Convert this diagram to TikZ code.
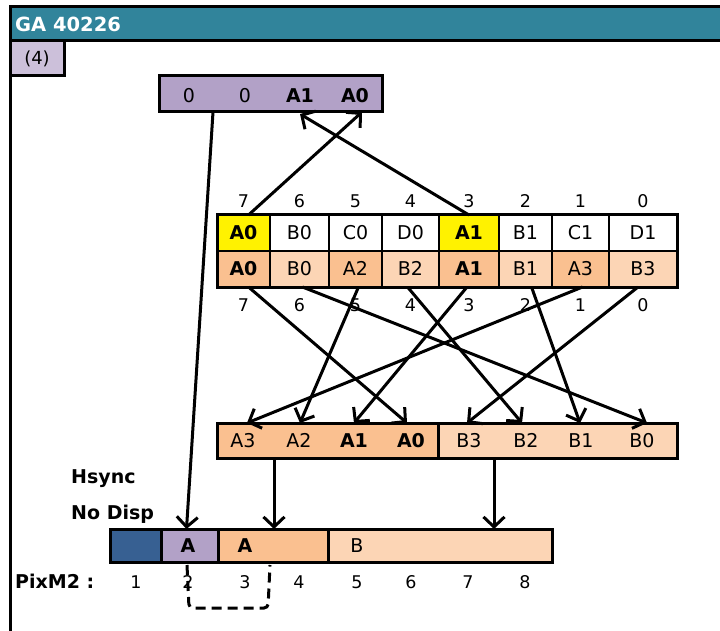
\documentclass[tikz,border=0pt]{standalone}
\usepackage{fontspec}
\setmainfont{DejaVu Sans}
\usetikzlibrary{arrows.meta,calc}
\definecolor{hdr}{HTML}{31849B}
\definecolor{lpurp}{HTML}{CCC0DA}
\definecolor{purp}{HTML}{B2A1C7}
\definecolor{dpeach}{HTML}{FAC090}
\definecolor{lpeach}{HTML}{FCD5B5}
\definecolor{dblue}{HTML}{376092}
\begin{document}
\begin{tikzpicture}[x=1pt,y=-1pt,
  box/.style={draw=black, line width=3pt, inner sep=0pt, outer sep=0pt},
  cell/.style={draw=black, line width=2pt, inner sep=0pt, outer sep=0pt, minimum height=36pt, text height=13.9pt, text depth=0pt, font=\fontsize{19}{21}\selectfont},
  txt/.style={inner sep=0pt, text height=13.9pt, text depth=0pt, font=\fontsize{19}{21}\selectfont},
  btxt/.style={inner sep=0pt, text height=13.9pt, text depth=0pt, font=\fontsize{19}{21}\selectfont\bfseries},
  num/.style={inner sep=0pt, text height=12.8pt, text depth=0pt, font=\fontsize{17.5}{19}\selectfont},
  arr/.style={line width=3pt, -{Straight Barb[length=10pt,width=21pt]}},
]
\useasboundingbox (0,0) rectangle (720,631);
\clip (0,0) rectangle (720,631);
% frame and header
\node[box, fill=hdr, anchor=north west, minimum width=740pt, minimum height=34pt] (hdr) at (10,7) {};
\node[anchor=west, inner sep=0pt, text height=14.2pt, text depth=0pt, text=white, font=\fontsize{19.5}{21}\selectfont\bfseries] (title) at (15,24) {GA 40226};
\coordinate (lb) at (10,660);
\draw[line width=3pt] (hdr.south west) -- (lb);
\node[box, fill=lpurp, anchor=north west, minimum width=54pt, minimum height=35pt, font=\fontsize{18}{20}\selectfont] (tag) at (10,41) {(4)};
% top register
\node[box, fill=purp, anchor=north west, minimum width=223pt, minimum height=36pt] (top) at (159,76) {};
\node[txt] (t0a) at (189,96) {0};
\node[txt] (t0b) at (245,96) {0};
\node[btxt] (tA1) at (300,96) {A1};
\node[btxt] (tA0) at (355,96) {A0};
% middle table
\foreach \n/\l/\r/\ut/\uf/\dt/\df in {
  7/217/270/{\textbf{A0}}/yellow/{\textbf{A0}}/dpeach,
  6/270/329/B0/white/B0/lpeach,
  5/329/382/C0/white/A2/dpeach,
  4/382/439/D0/white/B2/lpeach,
  3/439/499/{\textbf{A1}}/yellow/{\textbf{A1}}/dpeach,
  2/499/552/B1/white/B1/lpeach,
  1/552/609/C1/white/A3/dpeach,
  0/609/677/D1/white/B3/lpeach}{
  \node[cell, fill=\uf, minimum width={(\r-\l)*1pt}] (u\n) at ({(\l+\r)/2},233) {\ut};
  \node[cell, fill=\df, minimum width={(\r-\l)*1pt}] (d\n) at ({(\l+\r)/2},269) {\dt};
  \node[num] (nu\n) at ({(\l+\r)/2},201) {\n};
  \node[num] (nd\n) at ({(\l+\r)/2},305) {\n};
}
\draw[line width=3pt] (u7.north west) rectangle (d0.south east);
% bottom register
\node[box, fill=dpeach, anchor=north west, minimum width=221pt, minimum height=35pt] (regA) at (217,423) {};
\node[box, fill=lpeach, anchor=north west, minimum width=239pt, minimum height=35pt] (regB) at (438,423) {};
\node[txt] (bA3) at (243,441) {A3};
\node[txt] (bA2) at (299,441) {A2};
\node[btxt] (bA1) at (354,441) {A1};
\node[btxt] (bA0) at (411,441) {A0};
\node[txt] (bB3) at (469,441) {B3};
\node[txt] (bB2) at (526,441) {B2};
\node[txt] (bB1) at (581,441) {B1};
\node[txt] (bB0) at (642,441) {B0};
% pixel bar
\node[box, fill=dblue, anchor=north west, minimum width=51pt, minimum height=33pt] (pxD) at (110,529) {};
\node[box, fill=purp, anchor=north west, minimum width=57pt, minimum height=33pt] (pxA) at (161,529) {};
\node[box, fill=dpeach, anchor=north west, minimum width=110pt, minimum height=33pt] (pxAA) at (218,529) {};
\node[box, fill=lpeach, anchor=north west, minimum width=224pt, minimum height=33pt] (pxB) at (328,529) {};
\node[btxt] (lA1) at (188,546) {A};
\node[btxt] (lA2) at (245,546) {A};
\node[txt] (lB) at (357,546) {B};
% labels
\node[btxt, anchor=west] (hs) at (71,477) {Hsync};
\node[btxt, anchor=west] (nd) at (71,513) {No Disp};
\node[btxt, anchor=west] (pm) at (15,582) {PixM2 :};
\foreach \i/\x in {1/136,2/188,3/245,4/299,5/357,6/411,7/468,8/525}{
  \node[num] (p\i) at (\x,582) {\i};
}
% arrows to top register
\draw[arr] ($(u7.north)+(5,0)$) -- ($(top.south west)+(203,0)$);
\draw[arr] (u3.north) -- ($(top.south west)+(141,2)$);
% long arrow
\draw[arr] ($(top.south west)+(54,0)$) -- ($(pxA.north)+(-3,0)$);
% crossing arrows
\draw[arr] ($(d7.south)+(5,0)$) -- ($(bA0.center|-regA.north)+(-4,0)$);
\draw[arr] ($(d6.south)+(3,0)$) -- ($(bB0.center|-regB.north)+(5,0)$);
\draw[arr] ($(d5.south)+(3,0)$) -- ($(bA2.center|-regA.north)+(1,0)$);
\draw[arr] ($(d4.south)+(-3,0)$) -- ($(bB2.center|-regB.north)+(-4,0)$);
\draw[arr] ($(d3.south)+(-2,0)$) -- (bA1.center|-regA.north);
\draw[arr] ($(d2.south)+(6,0)$) -- ($(bB1.center|-regB.north)+(-1,0)$);
\draw[arr] ($(d1.south)+(2,0)$) -- ($(bA3.center|-regA.north)+(4,0)$);
\draw[arr] ($(d0.south)+(-5,0)$) -- ($(bB3.center|-regB.north)+(-2,0)$);
% down arrows to pixel bar
\draw[arr] ($(regA.south west)+(57,0)$) -- ($(pxAA.north west)+(56,0)$);
\draw[arr] ($(regB.south west)+(56,0)$) -- ($(pxB.north west)+(166,0)$);
% dashed bracket
\draw[line width=3pt, dash pattern=on 10pt off 6pt, rounded corners=4pt]
  ($(pxA.south west)+(26,3)$) -- ++(2,43) -- ++(79,0) -- ++(2,-43);
\end{tikzpicture}
\end{document}
